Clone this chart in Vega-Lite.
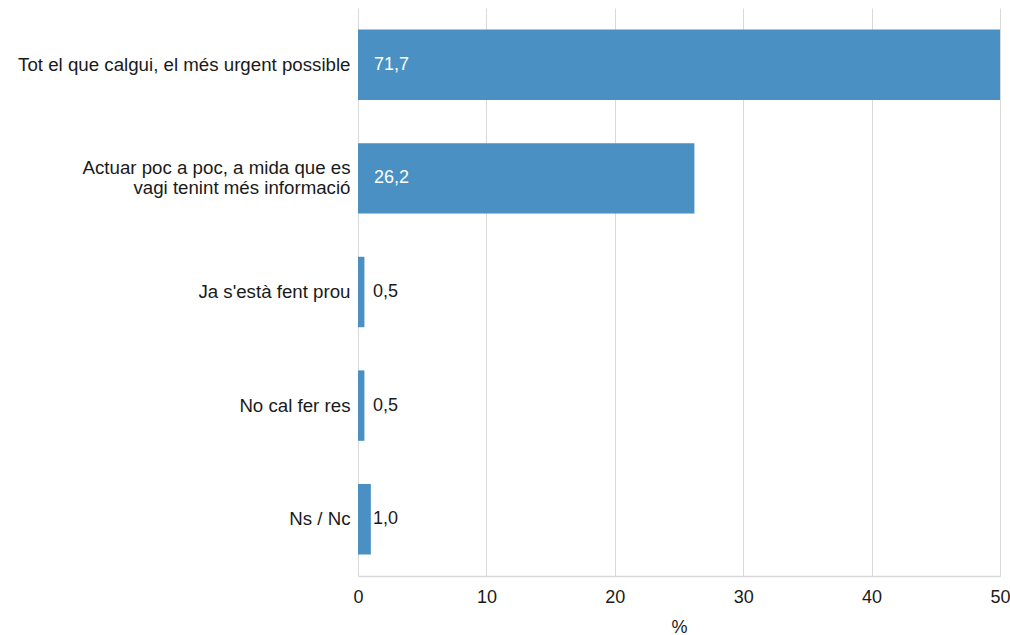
{
  "$schema": "https://vega.github.io/schema/vega-lite/v6.json",
  "autosize": {"type": "none"},
  "width": 642,
  "height": 568,
  "padding": {"left": 358, "top": 8, "right": 10, "bottom": 59},
  "background": "white",
  "config": {
    "view": {"stroke": null},
    "font": "Liberation Sans",
    "axis": {"labelFont": "Liberation Sans", "titleFont": "Liberation Sans", "labelColor": "#1a1a1a", "titleColor": "#1a1a1a"}
  },
  "data": {
    "values": [
      {"cat": "Tot el que calgui, el més urgent possible", "v": 71.7, "lab": "71,7"},
      {"cat": "Actuar poc a poc, a mida que es|vagi tenint més informació", "v": 26.2, "lab": "26,2"},
      {"cat": "Ja s'està fent prou", "v": 0.5, "lab": "0,5"},
      {"cat": "No cal fer res", "v": 0.5, "lab": "0,5"},
      {"cat": "Ns / Nc", "v": 1.0, "lab": "1,0"}
    ]
  },
  "encoding": {
    "y": {
      "field": "cat", "type": "nominal", "sort": null,
      "scale": {"paddingInner": 0.38, "paddingOuter": 0.19},
      "axis": {"title": null, "ticks": false, "domain": false, "labelFontSize": 18.7, "labelPadding": 8, "labelLimit": 400, "labelLineHeight": 20, "labelExpr": "split(datum.value, '|')", "labelOffset": {"condition": {"test": "indexof(datum.value, '|') >= 0", "value": -10}, "value": 0}}
    }
  },
  "layer": [
    {
      "mark": {"type": "bar", "color": "#4a90c2"},
      "encoding": {
        "x": {
          "field": "v", "type": "quantitative",
          "scale": {"domain": [0, 50], "clamp": true, "nice": false},
          "axis": {"title": "%", "titleFontSize": 18, "titleFontWeight": "normal", "titlePadding": 12, "values": [0, 10, 20, 30, 40, 50], "labelFontSize": 18, "labelPadding": 12, "labelFlush": false, "ticks": false, "grid": true, "gridColor": "#d9d9d9", "domainColor": "#d9d9d9", "domainWidth": 1.5}
        }
      }
    },
    {
      "transform": [{"filter": "datum.v > 10"}],
      "mark": {"type": "text", "align": "left", "baseline": "middle", "dx": 16, "fontSize": 18, "color": "white"},
      "encoding": {
        "x": {"datum": 0, "type": "quantitative"},
        "text": {"field": "lab"}
      }
    },
    {
      "transform": [{"filter": "datum.v <= 10"}],
      "mark": {"type": "text", "align": "left", "baseline": "middle", "dx": 15, "fontSize": 18, "color": "#1a1a1a"},
      "encoding": {
        "x": {"datum": 0, "type": "quantitative"},
        "text": {"field": "lab"}
      }
    }
  ]
}
